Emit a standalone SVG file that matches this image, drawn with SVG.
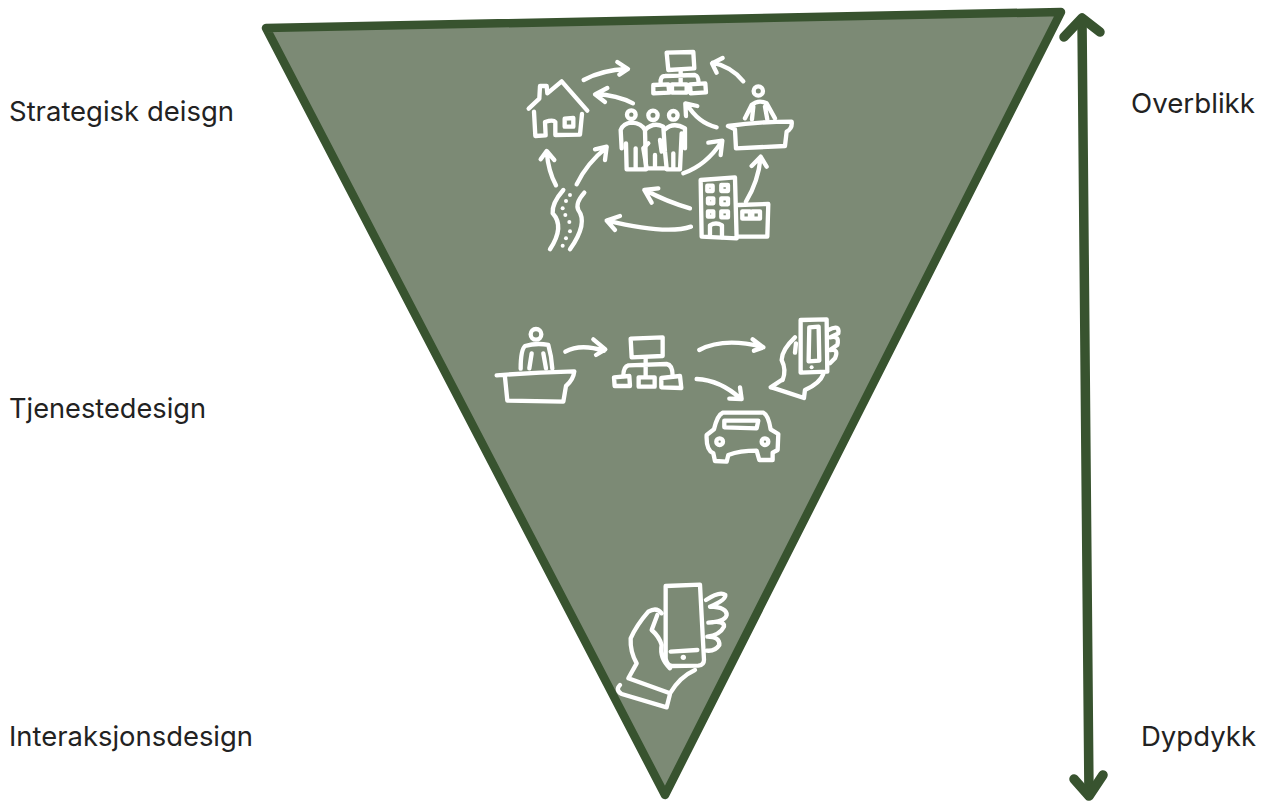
<svg xmlns="http://www.w3.org/2000/svg" width="1274" height="801" viewBox="0 0 1274 801">
<style>
.t{font-family:"Inter","Open Sans","Liberation Sans",sans-serif;font-size:27.500px;fill:#222}
.i{fill:none;stroke:#fff;stroke-width:13;stroke-linecap:round;stroke-linejoin:round}
.d{fill:#fff;stroke:none}
.a{fill:none;stroke:#38532f;stroke-width:9.500;stroke-linecap:round;stroke-linejoin:round}
</style>
<rect width="1274" height="801" fill="#fff"/>
<g id="triangle"><path d="M266,28 L1061,12 L665,795 Z" fill="#7c8a75" stroke="#38532f" stroke-width="8.500" stroke-linejoin="round"/></g>
<g id="labels">
<text class="t" x="9" y="121" textLength="225" lengthAdjust="spacingAndGlyphs">Strategisk deisgn</text>
<text class="t" x="9" y="417.500" textLength="197" lengthAdjust="spacingAndGlyphs">Tjenestedesign</text>
<text class="t" x="9" y="746" textLength="244" lengthAdjust="spacingAndGlyphs">Interaksjonsdesign</text>
<text class="t" x="1131" y="113" textLength="124" lengthAdjust="spacingAndGlyphs">Overblikk</text>
<text class="t" x="1141" y="746" textLength="115" lengthAdjust="spacingAndGlyphs">Dypdykk</text>
</g>
<g id="connectors">
<path class="a" d="M1082,20 L1089,795"/>
<path class="a" d="M1064,37 L1082,18 L1100,32"/>
<path class="a" d="M1074,779 L1089,796 L1103,775"/>
</g>
<g id="strategy" transform="translate(490,40) scale(.3333)">
<g id="network-a" class="i">
<path d="M530,38 L610,36 L613,85 L535,90 Z"/><path d="M572,92 V130 M512,130 Q510,108 525,108 L615,105 Q626,108 626,130"/>
<path d="M490,135 L535,133 L538,158 L490,160 Z M546,133 L590,133 L590,158 L546,158 Z M600,133 L646,130 L648,157 L602,160 Z"/></g>
<g id="house" class="i"><path d="M116,206 L148,176 L150,138 L170,138 L172,160 L215,124 L292,212"/><path d="M132,215 L136,288 L167,286 L165,246 Q190,238 196,246 L196,285 L270,284 L276,222"/><path d="M224,236 L250,234 L250,260 L224,260 Z"/></g>
<g id="people" class="i">
<circle cx="424" cy="224" r="13"/><circle cx="489" cy="226" r="14"/><circle cx="550" cy="226" r="13"/>
<path d="M395,325 L392,270 Q400,250 425,248 Q455,250 465,270 L468,388 L410,388 L408,310 M437,325 V385"/>
<path d="M465,270 Q490,245 520,260 L525,335 L530,385 L470,385 L460,325 L475,310 M495,345 V385 M510,300 L515,335"/>
<path d="M525,268 Q550,245 585,265 L585,325 M575,280 L570,388 L530,388 M550,340 V385"/></g>
<g id="reception-a" class="i"><circle cx="805" cy="153" r="14"/><path d="M765,235 L785,195 Q805,178 830,190 L855,235 M790,200 L786,238 M825,200 L832,238"/><path d="M714,258 Q800,245 905,245 Q908,265 890,275 L885,318 L738,325 L735,268 Z"/></g>
<g id="building" class="i"><path d="M632,420 L735,412 L740,595 L635,590 Z"/><path d="M660,590 V556 Q678,545 696,556 V592"/><path d="M652,437 H668 V453 H652 Z M694,435 H714 V453 H694 Z M654,475 H670 V490 H654 Z M694,475 H714 V493 H694 Z M654,514 H670 V530 H654 Z M694,514 H714 V532 H694 Z"/><path d="M745,495 L835,492 L832,590 L745,590"/><path d="M757,514 H780 V536 H757 Z M787,514 H810 V536 H787 Z"/></g>
<g id="road"><path class="i" d="M220,450 Q185,490 188,520 Q225,560 180,628 M283,458 Q255,490 265,510 Q295,550 240,628"/>
<circle class="d" cx="240" cy="465" r="6"/><circle class="d" cx="228" cy="483" r="6"/><circle class="d" cx="218" cy="505" r="6"/><circle class="d" cx="226" cy="525" r="6"/><circle class="d" cx="238" cy="546" r="6"/><circle class="d" cx="240" cy="574" r="6"/><circle class="d" cx="228" cy="595" r="6"/><circle class="d" cx="218" cy="617" r="6"/></g>
<g id="arrows-a" class="i">
<path d="M281,120 Q335,90 412,87 M382,66 L414,87 L388,104"/>
<path d="M760,124 Q725,80 668,68 M698,54 L666,70 L680,98"/>
<path d="M429,190 Q380,165 318,162 M352,144 L315,163 L345,186"/>
<path d="M680,262 Q625,250 590,192 M588,228 L586,190 L622,198"/>
<path d="M580,400 Q650,375 695,305 M655,308 L697,302 L692,345"/>
<path d="M198,436 Q175,395 170,335 M152,358 L170,333 L193,360"/>
<path d="M260,433 Q290,370 350,322 M315,328 L350,320 L345,360"/>
<path d="M600,505 Q530,485 465,450 M505,445 L463,450 L485,488"/>
<path d="M603,560 Q530,585 352,542 M390,528 L350,542 L375,570"/>
<path d="M768,485 Q805,425 812,352 M785,378 L812,350 L830,380"/></g>
</g>
<g id="service" transform="translate(480,300) scale(.3333)">
<g id="reception-b" class="i"><circle cx="168" cy="103" r="16"/><path d="M122,206 Q122,150 135,138 Q170,128 205,135 Q215,170 217,206 M148,205 L155,160 M190,160 L198,205"/><path d="M50,226 Q160,218 283,214 Q280,240 258,258 L250,305 L82,302 L75,232"/></g>
<g id="network-b" class="i"><path d="M452,116 L548,112 L548,168 L455,172 Z"/><path d="M497,172 V230 M430,228 Q430,200 445,196 L560,192 Q578,195 578,228"/>
<path d="M402,232 L448,228 L450,258 L404,258 Z M476,232 L524,232 L524,260 L476,260 Z M544,234 L600,228 L604,264 L544,262 Z"/></g>
<g id="phone-hand-b" class="i"><path d="M962,60 L1040,58 L1042,215 L962,218 Z"/><path d="M988,82 L1016,80 L1018,182 L986,184 Z"/><circle class="d" cx="995" cy="202" r="6"/><path d="M1045,90 Q1080,72 1075,100 L1050,112 M1050,112 Q1080,105 1072,135 L1050,150 M1050,150 Q1078,145 1065,175 L1050,190"/><path d="M945,112 Q905,150 905,180 Q920,210 908,240 M948,130 L945,158 M875,262 L972,294 L975,270 Q1020,250 1030,222"/><path d="M872,262 L905,240"/></g>
<g id="car" class="i"><path d="M680,405 L702,388 Q712,345 728,338 H850 Q865,345 872,388 L895,402 L893,450 L878,458 L878,480 L838,480 L830,452 Q780,452 745,465 L740,485 L705,483 L700,460 Q678,450 680,405 Z"/><path d="M733,362 L835,362 L830,385 L733,382 Z"/><circle cx="719" cy="425" r="10"/><circle cx="855" cy="425" r="10"/></g>
<g id="arrows-b" class="i">
<path d="M256,155 Q300,130 372,152 M340,118 L376,148 L348,165"/>
<path d="M658,150 Q730,112 845,140 M818,118 L850,142 L822,152"/>
<path d="M650,237 Q720,240 782,296 M780,262 L785,297 L748,296"/></g>
</g>
<g id="interaction" transform="translate(600,570) scale(.3333)">
<g id="phone-hand-c" class="i"><path d="M197,48 L300,44 L312,270 Q312,285 295,287 L215,288 Q200,285 197,265 Z"/><path d="M212,245 L292,240"/><circle class="d" cx="250" cy="262" r="8"/>
<path d="M318,90 Q360,62 376,75 Q378,90 330,110 M330,110 Q382,112 380,135 Q375,155 325,158 M325,158 Q375,150 372,170 Q360,195 322,200 M322,200 Q360,200 358,225 Q345,245 320,242"/>
<path d="M185,130 Q170,110 145,125 Q110,165 92,205 Q90,245 110,280 L85,325 L210,370 Q240,320 285,300"/><path d="M172,135 L155,180 Q178,200 185,225 Q178,265 210,295"/><path d="M60,345 Q45,360 65,372 L200,412 L210,372"/></g>
</g>
</svg>
